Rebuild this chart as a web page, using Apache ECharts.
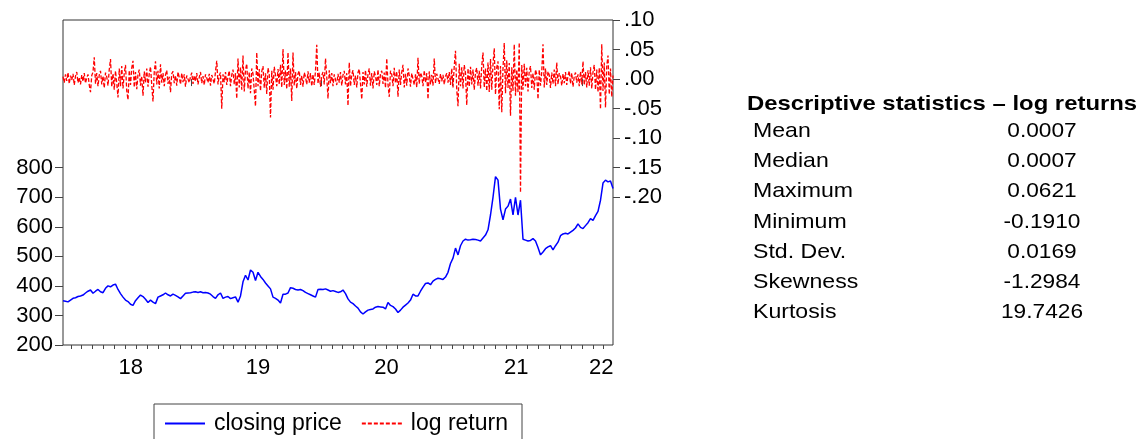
<!DOCTYPE html>
<html><head><meta charset="utf-8">
<script src="https://cdn.jsdelivr.net/npm/echarts@6/dist/echarts.min.js"></script>
<style>html,body{margin:0;padding:0;background:#fff}#c{width:1139px;height:439px}</style>
</head><body><div id="c"></div>
<script>
// ---- data ----
const startDate = '2018-01-08';
const endDate = '2022-03-28';
const priceStepDays = 7;
const returnStepDays = 3.5;
const yearBoundaryDates = ['2019-01-01', '2020-01-01', '2021-01-01', '2022-01-01'];
const yearLabelDates = ['2018-07-17', '2019-07-08', '2020-07-02', '2021-06-30', '2022-02-23'];
const priceTickValues = [200, 300, 400, 500, 600, 700, 800];
const returnTickValues = [-0.20, -0.15, -0.10, -0.05, 0, 0.05, 0.10];
const seriesNames = ['closing price', 'log return'];

const closingPrice = [
 350,348,346,352,358,360,364,366,369,376,
 382,386,375,382,388,380,377,392,400,397,
 403,406,388,374,362,352,347,338,334,350,
 360,369,364,355,344,352,345,340,362,366,
 370,376,370,366,372,368,363,357,366,375,
 376,377,379,380,378,380,377,378,376,372,
 364,358,370,376,358,362,364,357,360,363,
 345,366,414,436,420,454,446,418,446,432,
 422,410,400,390,362,358,352,342,372,372,
 376,394,392,388,386,388,384,378,374,370,
 366,362,388,389,388,390,386,382,384,381,
 378,380,386,374,356,345,340,332,325,312,
 305,312,318,320,322,328,330,329,328,322,
 344,334,330,322,310,318,328,335,342,352,
 372,366,366,382,396,408,410,404,416,422,
 426,424,422,430,446,476,494,528,505,536,
 552,558,555,556,558,557,555,552,562,572,
 590,640,700,770,758,660,624,660,670,694,
 640,700,640,690,558,555,552,554,560,552,
 530,505,515,526,532,536,522,536,548,570,
 576,578,576,582,588,596,610,598,594,604,
 614,628,622,638,652,690,748,758,752,755,
 730
];

const logReturn = [
 0.004,-0.006,0.008,-0.003,0.011,-0.008,0.006,-0.002,0.009,-0.010,0.005,0.012,-0.006,0.003,-0.009,0.007,-0.004,0.010,-0.007,0.002,
 0.008,-0.010,-0.022,0.006,0.012,0.037,-0.008,0.010,-0.012,0.007,0.014,-0.009,0.005,-0.015,0.011,0.004,-0.011,0.016,0.034,-0.013,
 0.009,-0.018,0.014,-0.007,-0.031,0.018,-0.012,0.022,-0.016,0.010,0.024,-0.020,-0.035,0.015,-0.010,0.019,0.031,-0.014,0.012,-0.017,
 0.008,0.016,-0.011,0.005,-0.028,0.013,-0.006,0.018,-0.013,0.009,0.021,-0.010,-0.038,0.012,0.030,-0.009,0.014,-0.016,0.025,-0.006,
 0.010,-0.012,0.007,0.015,-0.008,0.004,-0.022,0.009,0.013,-0.007,0.006,-0.011,0.012,0.003,-0.009,0.010,-0.005,0.008,-0.013,0.006,
 0.009,-0.006,0.004,0.011,-0.008,0.006,-0.004,0.010,-0.009,0.003,0.012,-0.007,0.005,-0.010,0.008,0.002,-0.006,0.009,-0.011,0.007,
 0.010,-0.008,0.013,0.031,-0.009,0.006,0.011,-0.050,0.008,-0.005,0.012,-0.010,0.004,0.014,-0.012,0.007,0.016,-0.009,0.010,-0.033,
 0.035,-0.014,0.020,-0.018,0.040,-0.021,0.015,0.026,-0.016,0.012,-0.024,0.018,0.009,-0.019,-0.046,0.045,-0.012,0.017,-0.020,0.013,
 0.022,-0.015,0.010,-0.025,0.019,0.008,-0.065,0.014,-0.018,0.021,0.006,-0.012,0.017,-0.009,0.024,-0.014,0.051,-0.010,0.015,-0.017,
 0.045,-0.013,0.018,-0.037,0.045,-0.011,0.012,-0.016,0.009,0.014,-0.010,0.006,-0.013,0.011,0.004,-0.009,0.013,-0.006,0.010,-0.012,
 0.008,-0.010,0.014,0.058,-0.008,0.011,-0.013,0.006,0.012,-0.009,0.035,0.004,-0.033,0.015,-0.007,0.010,-0.012,0.008,0.005,-0.010,
 0.009,-0.006,0.012,-0.011,0.007,0.014,-0.009,0.010,-0.045,0.028,-0.012,0.008,0.015,-0.010,0.006,-0.014,0.011,0.017,-0.008,-0.034,
 0.012,-0.009,0.015,-0.013,0.008,0.018,-0.011,0.010,-0.016,0.013,0.005,-0.010,0.016,-0.012,0.009,0.014,-0.008,0.011,-0.015,0.035,
 -0.009,-0.030,0.014,0.008,-0.012,0.019,-0.007,0.013,-0.030,0.016,-0.010,0.012,0.024,-0.014,0.009,-0.011,0.018,0.006,-0.013,0.010,
 0.012,-0.010,0.008,-0.014,0.036,-0.008,0.011,0.005,-0.012,0.015,-0.006,0.010,-0.034,0.013,-0.009,0.007,-0.011,0.035,-0.007,0.009,
 0.006,-0.008,0.009,-0.004,0.007,-0.009,0.005,0.010,-0.006,0.012,-0.010,0.018,-0.014,0.022,0.048,-0.018,-0.046,0.026,-0.012,0.020,
 -0.016,0.024,0.010,-0.044,0.018,-0.013,0.021,-0.009,0.016,-0.018,0.012,0.019,-0.011,0.014,-0.016,0.022,0.045,-0.014,0.018,-0.020,
 0.028,-0.022,0.034,-0.018,0.025,0.052,-0.026,0.020,0.030,-0.051,0.022,-0.056,0.018,0.061,-0.024,0.032,-0.015,0.027,-0.062,0.020,
 -0.020,0.059,-0.028,0.016,-0.022,0.062,-0.192,0.024,-0.018,0.026,-0.012,0.019,-0.021,0.014,0.022,-0.015,0.010,-0.018,0.016,0.008,
 -0.034,0.016,-0.011,0.012,0.059,-0.014,0.018,-0.010,0.013,0.007,-0.015,0.011,-0.008,0.016,-0.012,0.028,-0.009,0.010,0.005,-0.011,
 0.009,-0.007,0.012,-0.010,0.006,0.014,-0.008,0.010,-0.013,0.005,0.011,-0.006,0.008,-0.012,0.013,-0.009,0.030,-0.010,0.012,-0.014,
 0.015,-0.011,0.020,-0.016,0.012,0.024,-0.018,0.016,-0.022,0.019,-0.051,0.059,-0.020,0.028,-0.048,0.022,0.040,-0.026,0.018,-0.030,
 0.006
];

const statsTitle = 'Descriptive statistics \u2013 log returns';
const statNames = ['Mean', 'Median', 'Maximum', 'Minimum', 'Std. Dev.', 'Skewness', 'Kurtosis'];
const statValues = ['0.0007', '0.0007', '0.0621', '-0.1910', '0.0169', '-1.2984', '19.7426'];

// ---- build ----
const DAY = 86400000;
function ts(s) { const p = s.split('-').map(Number); return Date.UTC(p[0], p[1] - 1, p[2]); }
const t0 = ts(startDate), t1 = ts(endDate);
const pricePairs = closingPrice.map((v, i) => [t0 + i * priceStepDays * DAY, v]);
const returnPairs = logReturn.map((v, i) => [t0 + i * returnStepDays * DAY, v]);
const monthTicks = [];
for (let y = 2018; y <= 2022; y++) for (let m = 0; m < 12; m++) {
  const t = Date.UTC(y, m, 1);
  if (t > t0 && t < t1) monthTicks.push(t);
}
const FONT = "'Liberation Sans', Arial, sans-serif";
const TXT = '#000';

const graphics = [{
  type: 'text', x: 747, y: 104, scaleX: 1.137, originX: 0, originY: 0,
  style: { text: statsTitle, font: "bold 21px " + FONT, fill: TXT, align: 'left', verticalAlign: 'middle' }
}];
statNames.forEach((n, i) => {
  const yc = 131.5 + i * 30.1;
  graphics.push({ type: 'text', x: 753, y: yc, scaleX: 1.1, style: { text: n, font: "21px " + FONT, fill: TXT, align: 'left', verticalAlign: 'middle' } });
  graphics.push({ type: 'text', x: 1042, y: yc, scaleX: 1.08, style: { text: statValues[i], font: "21px " + FONT, fill: TXT, align: 'center', verticalAlign: 'middle' } });
});

const chart = echarts.init(document.getElementById('c'), null, { renderer: 'canvas' });
chart.setOption({
  animation: false,
  backgroundColor: '#fff',
  grid: { left: 63, right: 526, top: 20, bottom: 94, show: true, borderColor: '#333', borderWidth: 1, backgroundColor: '#fff' },
  xAxis: [{
    type: 'value', min: t0, max: t1, position: 'bottom', scale: true,
    axisLine: { show: false },
    axisTick: { show: true, length: 7, lineStyle: { color: '#444' }, customValues: yearBoundaryDates.map(ts) },
    axisLabel: { show: true, customValues: yearLabelDates.map(ts), formatter: v => String(new Date(v).getUTCFullYear() % 100),
      fontSize: 22, fontFamily: FONT, color: TXT, margin: 12 },
    splitLine: { show: false }
  }, {
    type: 'value', min: t0, max: t1, position: 'bottom', scale: true,
    axisLine: { show: false },
    axisTick: { show: true, length: 4, lineStyle: { color: '#444' }, customValues: monthTicks },
    axisLabel: { show: false },
    splitLine: { show: false }
  }],
  yAxis: [{
    type: 'value', min: 200, max: 1300, interval: 100, position: 'left',
    axisLine: { show: false },
    axisTick: { show: true, length: 8, lineStyle: { color: '#444' }, customValues: priceTickValues },
    axisLabel: { customValues: priceTickValues, fontSize: 22, fontFamily: FONT, color: TXT, margin: 10 },
    splitLine: { show: false }
  }, {
    type: 'value', min: -0.45, max: 0.10, interval: 0.05, position: 'right',
    axisLine: { show: false },
    axisTick: { show: true, length: 7, lineStyle: { color: '#444' }, customValues: returnTickValues },
    axisLabel: { customValues: returnTickValues, fontSize: 22, fontFamily: FONT, color: TXT, margin: 11,
      formatter: v => (Math.abs(v) < 1e-9 ? 0 : v).toFixed(2).replace('0.', '.') },
    splitLine: { show: false }
  }],
  legend: {
    data: seriesNames, left: 154, top: 404, orient: 'horizontal',
    itemWidth: 40, itemHeight: 14, itemGap: 19,
    padding: [8, 14, 14, 10],
    borderColor: '#444', borderWidth: 1, backgroundColor: '#fff',
    itemStyle: { opacity: 0 },
    textStyle: { fontSize: 23, fontFamily: FONT, color: TXT, padding: [0, 0, 0, 4] }
  },
  graphic: graphics,
  series: [{
    name: seriesNames[0], type: 'line', xAxisIndex: 0, yAxisIndex: 0, data: pricePairs,
    symbol: 'none', showSymbol: false, z: 3,
    lineStyle: { color: '#0000ff', width: 1.5 }, itemStyle: { color: '#0000ff' }
  }, {
    name: seriesNames[1], type: 'line', xAxisIndex: 0, yAxisIndex: 1, data: returnPairs,
    symbol: 'none', showSymbol: false, z: 2,
    lineStyle: { color: '#ff0000', width: 1.3, type: [4, 2] }, itemStyle: { color: '#ff0000' }
  }]
});
</script></body></html>
